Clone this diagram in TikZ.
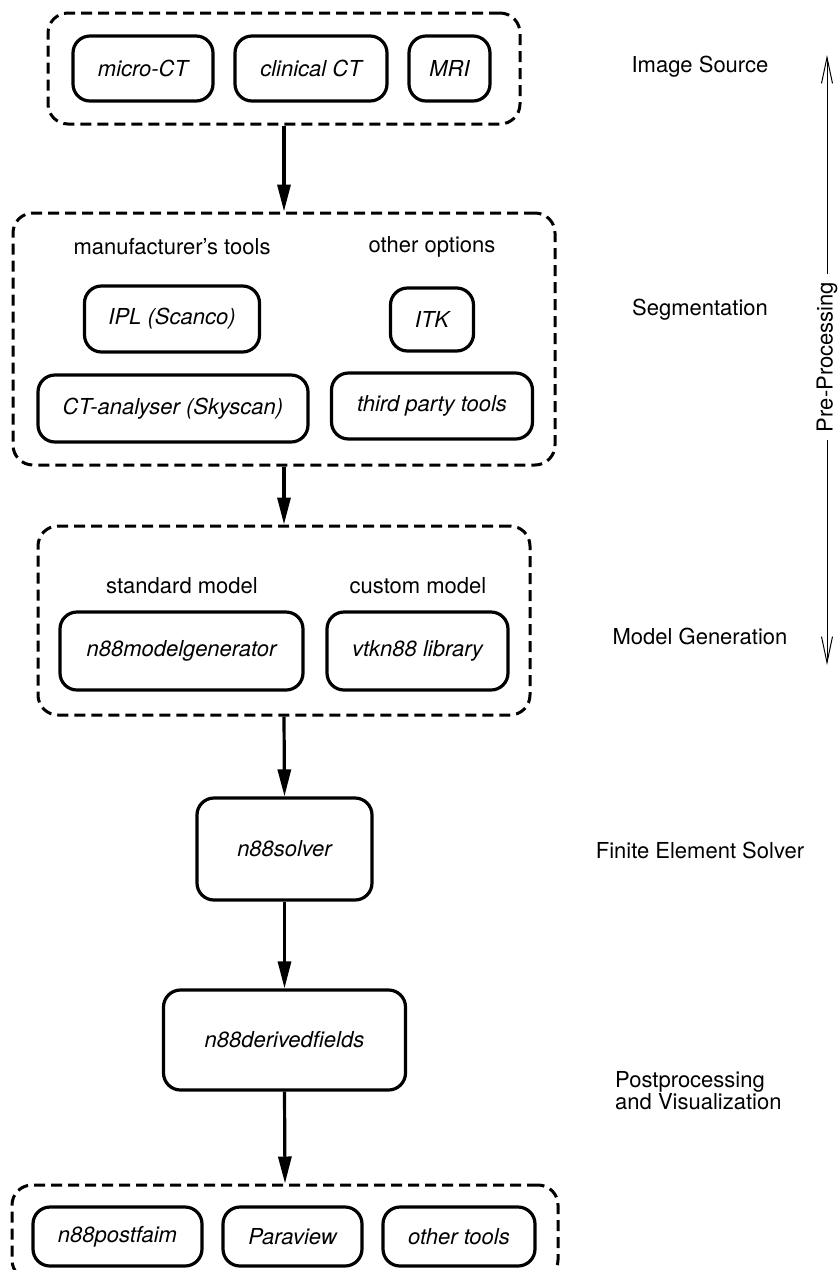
\documentclass[tikz,border=0pt]{standalone}
\usepackage{fontspec}
\setmainfont{TeX Gyre Heros}
\usetikzlibrary{arrows.meta}
\begin{document}
\begin{tikzpicture}[x=1pt,y=-1pt,
  every node/.style={font=\fontsize{22}{24}\selectfont},
  tool/.style={draw, line width=3.2pt, rounded corners=17pt, font=\fontsize{22}{24}\selectfont\itshape, inner sep=0pt},
  group/.style={draw, line width=3pt, rounded corners=20pt, dash pattern=on 11pt off 6pt, inner sep=0pt},
  lbl/.style={inner sep=0pt},
  flow/.style={line width=3.2pt, -{Triangle[length=27pt,width=13pt]}},
  barb/.style={line width=1pt, -{Straight Barb[length=26pt,width=11pt]}},
]
\useasboundingbox (0,0) rectangle (839,1270);
\clip (0,0) rectangle (839,1270);

% Image source
\node[group, minimum width=472pt, minimum height=111pt] (g1) at (284,68.5) {};
\node[tool, minimum width=140pt, minimum height=65pt] (mct) at (143,68.5) {micro-CT};
\node[tool, minimum width=152pt, minimum height=65pt] (cct) at (311,68.5) {clinical CT};
\node[tool, minimum width=81pt, minimum height=65pt] (mri) at (449.5,68.5) {MRI};

% Segmentation
\node[group, minimum width=542pt, minimum height=252pt] (g2) at (284,339) {};
\node[lbl] (manu) at (172,247) {manufacturer's tools};
\node[lbl] (oth) at (432,247) {other options};
\node[tool, minimum width=175pt, minimum height=66pt] (ipl) at (172,319) {IPL (Scanco)};
\node[tool, minimum width=83pt, minimum height=63pt] (itk) at (432,319.5) {ITK};
\node[tool, minimum width=270pt, minimum height=67pt] (cta) at (173,408.5) {CT-analyser (Skyscan)};
\node[tool, minimum width=201pt, minimum height=66pt] (tpt) at (432,406) {third party tools};

% Model generation
\node[group, minimum width=492pt, minimum height=189pt] (g3) at (284,620.5) {};
\node[lbl] (std) at (182,586) {standard model};
\node[lbl] (cus) at (418,586) {custom model};
\node[tool, minimum width=243pt, minimum height=78pt] (mg) at (181.5,651) {n88modelgenerator};
\node[tool, minimum width=181pt, minimum height=78pt] (vtk) at (417.5,651) {vtkn88 library};

% Solver and derived fields
\node[tool, minimum width=175pt, minimum height=102pt] (solver) at (284.5,849) {n88solver};
\node[tool, minimum width=242pt, minimum height=100pt] (derived) at (284.5,1040) {n88derivedfields};

% Postprocessing tools
\node[group, minimum width=546pt, minimum height=95pt] (g6) at (285,1232.5) {};
\node[tool, minimum width=169pt, minimum height=59pt] (pf) at (117.5,1236.5) {n88postfaim};
\node[tool, minimum width=139pt, minimum height=59pt] (pv) at (292.5,1236.5) {Paraview};
\node[tool, minimum width=152pt, minimum height=59pt] (ot) at (459,1236.5) {other tools};

% flow arrows
\draw[flow] (g1.south) -- (g2.north);
\draw[flow] (g2.south) -- (g3.north);
\draw[flow] (g3.south) -- (solver.north);
\draw[flow] (solver.south) -- (derived.north);
\draw[flow] (derived.south) -- (g6.north);

% right-hand labels
\node[lbl] (s1) at (700,67) {Image Source};
\node[lbl] (s2) at (700,310) {Segmentation};
\node[lbl] (s3) at (700,636) {Model Generation};
\node[lbl] (s4) at (700,850) {Finite Element Solver};
\node[lbl, align=left, anchor=west, font=\fontsize{22}{22}\selectfont] (s5) at (615,1091) {Postprocessing\\and Visualization};

% pre-processing span
\coordinate (pptop) at (827,55);
\coordinate (ppbot) at (827,665);
\node[rotate=90, inner sep=8pt] (pp) at (827,357) {Pre-Processing};
\draw[barb] (pp.east) -- (pptop);
\draw[barb] (pp.west) -- (ppbot);
\end{tikzpicture}
\end{document}
